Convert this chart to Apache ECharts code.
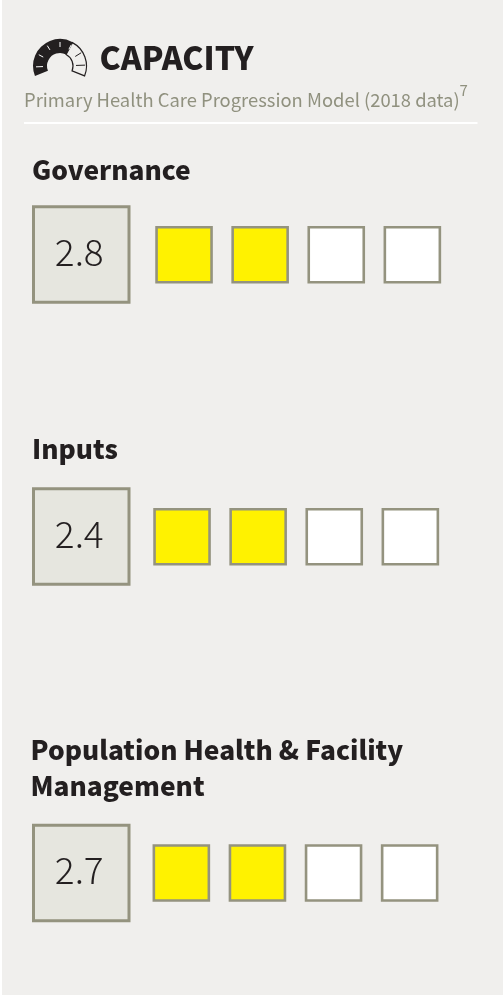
<!DOCTYPE html>
<html><head><meta charset="utf-8">
<style>html,body{margin:0;padding:0;background:#fff}#c{width:503px;height:996px}</style>
<script src="https://cdn.jsdelivr.net/npm/echarts@6/dist/echarts.min.js"></script>
</head><body><div id="c"></div>
<script>
const title = 'CAPACITY';
const subtitle = 'Primary Health Care Progression Model (2018 data)';
const footnote = '7';
const metrics = ['Governance', 'Inputs', 'Population Health & Facility\nManagement'];
const scores = [2.8, 2.4, 2.7];
const filledLevels = [2, 2, 2];
const levelSlots = ['1', '2', '3', '4'];

const FONT = '"Noto Sans CJK SC","Noto Sans",sans-serif';
const BORDER = '#94937f', BG = '#f0efed', BOX = '#e6e6df', YELLOW = '#fff200', INK = '#231f20', MUTED = '#90917f';

const rows = [
  {boxTop: 205.5, cellsLeft: 146, cellTop: 205.7, head: [32, 170.5]},
  {boxTop: 487.5, cellsLeft: 144, cellTop: 487.7, head: [32, 449.5]},
  {boxTop: 824, cellsLeft: 143.3, cellTop: 824, head: [30.5, 750.5]}
];

const grids = [], xAxes = [], yAxes = [], series = [];
const hiddenAxis = {show: false, type: 'category'};
rows.forEach((r, i) => {
  grids.push({left: 32, top: r.boxTop, width: 98.5, height: 98});
  xAxes.push({...hiddenAxis, gridIndex: grids.length - 1, data: [metrics[i]]});
  yAxes.push({show: false, type: 'value', gridIndex: grids.length - 1, min: 0, max: 2 * scores[i]});
  series.push({
    type: 'scatter', xAxisIndex: grids.length - 1, yAxisIndex: grids.length - 1, silent: true,
    symbol: 'rect', symbolSize: 95.5,
    data: [scores[i]],
    itemStyle: {color: BOX, borderColor: BORDER, borderWidth: 3, opacity: 1},
    label: {show: true, position: 'inside', formatter: p => (+(Array.isArray(p.value) ? p.value[1] : p.value)).toFixed(1),
      color: INK, fontFamily: FONT, fontWeight: 200, fontSize: 37, offset: [-2, -3]}
  });
  grids.push({left: r.cellsLeft, top: r.cellTop, width: 304.4, height: 98});
  xAxes.push({...hiddenAxis, gridIndex: grids.length - 1, data: levelSlots});
  yAxes.push({show: false, type: 'value', gridIndex: grids.length - 1, min: 0, max: 2});
  series.push({
    type: 'scatter', xAxisIndex: grids.length - 1, yAxisIndex: grids.length - 1, silent: true,
    symbol: 'rect', symbolSize: 55,
    data: levelSlots.map((s, k) => ({value: [s, 1], itemStyle: {color: k < filledLevels[i] ? YELLOW : '#ffffff'}})),
    itemStyle: {borderColor: BORDER, borderWidth: 2.6, opacity: 1}
  });
});

const cx = 60, cy = 66, R = 26.5, r0 = 13;
const rad = d => d * Math.PI / 180;
const tick = (deg, a, b, stroke) => ({type: 'line', silent: true,
  shape: {x1: cx + a * Math.cos(rad(deg)), y1: cy + a * Math.sin(rad(deg)), x2: cx + b * Math.cos(rad(deg)), y2: cy + b * Math.sin(rad(deg))},
  style: {stroke, lineWidth: 1}});
const graphics = [
  {type: 'rect', silent: true, z: -10, shape: {x: 2, y: 0, width: 501, height: 995}, style: {fill: BG}},
  {type: 'sector', silent: true, shape: {cx, cy, r: R, r0, startAngle: rad(298), endAngle: rad(382), clockwise: true}, style: {fill: BG, stroke: INK, lineWidth: 1.2}},
  {type: 'sector', silent: true, shape: {cx, cy, r: R + 0.5, r0, startAngle: rad(158), endAngle: rad(298), clockwise: true}, style: {fill: INK}},
  tick(178, 17, 24, '#fff'), tick(208, 19, 24, '#fff'), tick(238, 19, 24, '#fff'), tick(270, 19, 24, '#fff'), tick(298, 19, 24, '#fff'),
  tick(328, 18, 25, INK), tick(358, 16, 25, INK),
  {type: 'text', silent: true, style: {x: 99.5, y: 57.5, text: title, fontFamily: FONT, fontWeight: 900, fontSize: 31.8, fill: INK, textVerticalAlign: 'middle'}},
  {type: 'text', silent: true, style: {x: 24, y: 100.5, text: subtitle, fontFamily: FONT, fontSize: 18.4, fill: MUTED, textVerticalAlign: 'middle'}},
  {type: 'text', silent: true, style: {x: 459.5, y: 90.5, text: footnote, fontFamily: FONT, fontSize: 15, fill: MUTED, textVerticalAlign: 'middle'}},
  {type: 'rect', silent: true, shape: {x: 24, y: 122, width: 453.5, height: 2}, style: {fill: '#fff'}}
];
rows.forEach((r, i) => {
  metrics[i].split('\n').forEach((line, k) => {
    graphics.push({type: 'text', silent: true, style: {x: r.head[0], y: r.head[1] + k * 36, text: line, fontFamily: FONT, fontWeight: 900, fontSize: 26.3, fill: INK, textVerticalAlign: 'middle'}});
  });
});

const chart = echarts.init(document.getElementById('c'), null, {renderer: 'canvas', width: 503, height: 996});
chart.setOption({animation: false, backgroundColor: '#fff', grid: grids, xAxis: xAxes, yAxis: yAxes, series, graphic: graphics, tooltip: {show: false}});
</script></body></html>
